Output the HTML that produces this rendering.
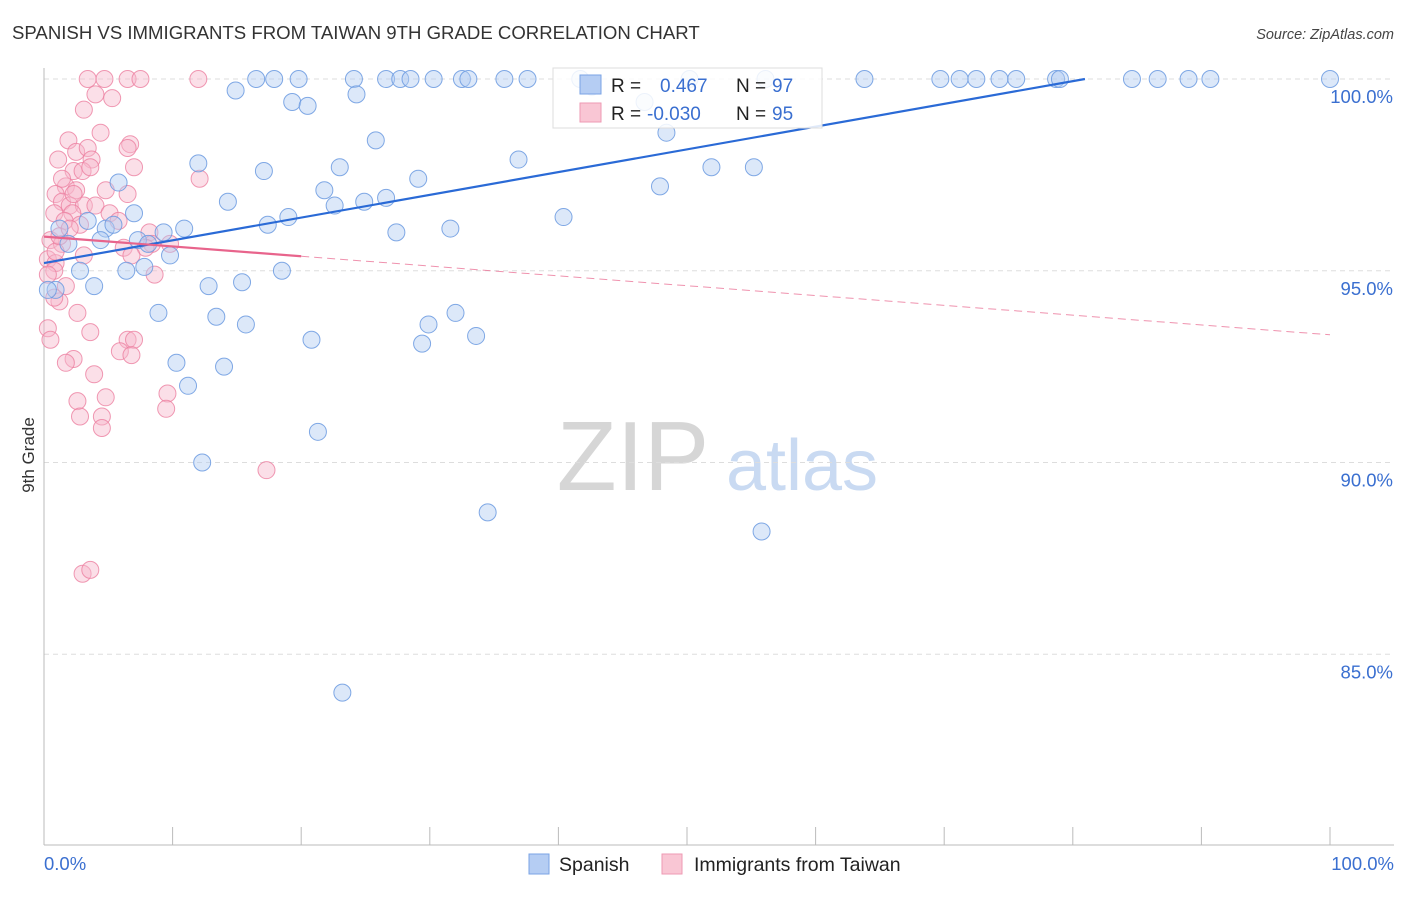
<!DOCTYPE html>
<html><head><meta charset="utf-8"><style>
body{margin:0;background:#fff;font-family:"Liberation Sans",sans-serif;}
svg text{font-family:"Liberation Sans",sans-serif;}
</style></head><body>
<svg id="chart" width="1406" height="892" xmlns="http://www.w3.org/2000/svg">
<text x="12" y="39" font-size="18.6" fill="#333">SPANISH VS IMMIGRANTS FROM TAIWAN 9TH GRADE CORRELATION CHART</text>
<text x="1394" y="39" font-size="14.5" fill="#444" font-style="italic" text-anchor="end">Source: ZipAtlas.com</text>
<g>
<text x="633" y="490" font-size="98" fill="#d6d6d6" font-family="Liberation Serif" text-anchor="middle">ZIP</text>
<text x="802" y="490" font-size="72" fill="#c9daf2" text-anchor="middle">atlas</text>
</g>
<g id="grid"></g>
<g id="axes"></g>
<g id="points"></g>
<g id="trends"></g>
<text transform="translate(34,455) rotate(-90)" font-size="17" fill="#333" text-anchor="middle">9th Grade</text>
<text x="44" y="870" font-size="18.5" fill="#3a6fd0">0.0%</text>
<text x="1394" y="870" font-size="18.5" fill="#3a6fd0" text-anchor="end">100.0%</text>
<g>
<rect x="553" y="68" width="269" height="60" fill="#fff" fill-opacity="0.85" stroke="#ddd"/>
<rect x="580" y="75" width="21" height="19" fill="#b5cdf3" stroke="#7aa3e5"/>
<rect x="580" y="103" width="21" height="19" fill="#f9c6d4" stroke="#ee9ab3"/>
<text x="611" y="92" font-size="19" fill="#222">R =</text>
<text x="660" y="92" font-size="19" fill="#3a6fd0">0.467</text>
<text x="736" y="92" font-size="19" fill="#222">N =</text>
<text x="772" y="92" font-size="19" fill="#3a6fd0">97</text>
<text x="611" y="120" font-size="19" fill="#222">R =</text>
<text x="647" y="120" font-size="19" fill="#3a6fd0">-0.030</text>
<text x="736" y="120" font-size="19" fill="#222">N =</text>
<text x="772" y="120" font-size="19" fill="#3a6fd0">95</text>
</g>
<g>
<rect x="529" y="854" width="20" height="20" fill="#b5cdf3" stroke="#7aa3e5"/>
<text x="559" y="871" font-size="19.5" fill="#222">Spanish</text>
<rect x="662" y="854" width="20" height="20" fill="#f9c6d4" stroke="#ee9ab3"/>
<text x="694" y="871" font-size="19.5" fill="#222">Immigrants from Taiwan</text>
</g>
</svg>
<script>
const yTicks=[100,95,90,85];
const yTickLabels=["100.0%","95.0%","90.0%","85.0%"];
const xTicks=[0,10,20,30,40,50,60,70,80,90,100];
const blueX=[16.5,17.9,19.8,24.1,26.6,27.7,28.5,30.3,32.5,33.0,35.8,37.6,41.7,50.2,56.1,63.8,69.7,71.2,72.5,74.3,75.6,78.7,79.0,84.6,86.6,89.0,90.7,100,42.6,14.9,19.3,20.5,24.3,46.7,25.8,48.4,12.0,17.1,23.0,36.9,55.2,51.9,5.8,47.9,21.8,29.1,26.6,24.9,22.6,14.3,40.4,7.0,19.0,17.4,3.4,1.2,4.8,5.4,10.9,9.3,27.4,31.6,7.3,4.4,1.9,8.1,9.8,2.8,6.4,7.8,18.5,15.4,3.9,12.8,0.9,0.3,8.9,13.4,15.7,32.0,29.9,20.8,29.4,33.6,10.3,14.0,11.2,21.3,12.3,34.5,55.8,23.2];
const blueY=[100,100,100,100,100,100,100,100,100,100,100,100,100,100,100,100,100,100,100,100,100,100,100,100,100,100,100,100,99.8,99.7,99.4,99.3,99.6,99.4,98.4,98.6,97.8,97.6,97.7,97.9,97.7,97.7,97.3,97.2,97.1,97.4,96.9,96.8,96.7,96.8,96.4,96.5,96.4,96.2,96.3,96.1,96.1,96.2,96.1,96.0,96.0,96.1,95.8,95.8,95.7,95.7,95.4,95.0,95.0,95.1,95.0,94.7,94.6,94.6,94.5,94.5,93.9,93.8,93.6,93.9,93.6,93.2,93.1,93.3,92.6,92.5,92.0,90.8,90.0,88.7,88.2,84.0];
const pinkX=[3.4,4.7,6.5,7.5,12.0,3.1,4.0,5.3,4.4,1.9,2.5,3.4,1.1,3.7,6.7,6.5,7.0,2.3,3.0,3.6,1.7,2.5,0.9,6.5,1.4,2.0,3.1,4.0,0.8,5.1,2.2,1.6,2.8,5.8,0.5,1.4,8.2,8.4,7.9,6.2,0.3,0.9,3.1,6.8,9.8,12.1,8.6,0.8,1.2,1.7,0.8,2.6,0.3,3.6,0.5,6.5,7.0,5.9,2.3,1.7,6.8,3.9,9.6,4.8,2.6,9.5,2.8,4.5,4.5,17.3,3.0,3.6,1.4,4.8,0.9,0.3,1.2,2.3,2.0];
const pinkY=[100,100,100,100,100,99.2,99.6,99.5,98.6,98.4,98.1,98.2,97.9,97.9,98.3,98.2,97.7,97.6,97.6,97.7,97.2,97.1,97.0,97.0,96.8,96.7,96.7,96.7,96.5,96.5,96.5,96.3,96.2,96.3,95.8,95.7,96.0,95.7,95.6,95.6,95.3,95.2,95.4,95.4,95.7,97.4,94.9,95.0,94.2,94.6,94.3,93.9,93.5,93.4,93.2,93.2,93.2,92.9,92.7,92.6,92.8,92.3,91.8,91.7,91.6,91.4,91.2,91.2,90.9,89.8,87.1,87.2,97.4,97.1,95.5,94.9,95.9,97.0,96.1];
const blueTrend=[95.2,101.13];
const pinkTrend=[95.89,93.33];
const pinkSolidEnd=20;
const NS="http://www.w3.org/2000/svg";
const X0=44,X1=1330,Y0=79,YPER=38.35;
function xs(v){return X0+(X1-X0)*v/100;}
function ys(v){return Y0+(100-v)*YPER;}
function mk(tag,attrs,parent){const e=document.createElementNS(NS,tag);for(const k in attrs)e.setAttribute(k,attrs[k]);parent.appendChild(e);return e;}
const grid=document.getElementById('grid');
yTicks.forEach((t,i)=>{
 const l=mk('line',{x1:X0,x2:1394,y1:ys(t),y2:ys(t),stroke:'#ddd','stroke-dasharray':'5,4'},grid);
 
 
 const tx=mk('text',{x:1393,y:ys(t)+24,'font-size':18.5,fill:'#3a6fd0','text-anchor':'end'},grid);
 tx.textContent=yTickLabels[i];
 
 
});
const axes=document.getElementById('axes');
const ya=mk('line',{x1:X0,x2:X0,y1:68,y2:845,stroke:'#bbb'},axes);


const xa=mk('line',{x1:X0,x2:1394,y1:845,y2:845,stroke:'#bbb'},axes);


xTicks.forEach(t=>{
 const l=mk('line',{x1:xs(t),x2:xs(t),y1:827,y2:845,stroke:'#bbb'},axes);
 
 
});
const pts=document.getElementById('points');
pinkX.forEach((v,i)=>{
 const c=mk('circle',{cx:xs(v),cy:ys(pinkY[i]),r:8.5,fill:'#f7b8cb','fill-opacity':0.45,stroke:'#ec7fa0','stroke-opacity':0.8,'stroke-width':1},pts);
 
 
});
blueX.forEach((v,i)=>{
 const c=mk('circle',{cx:xs(v),cy:ys(blueY[i]),r:8.5,fill:'#b2cbf2','fill-opacity':0.45,stroke:'#6b9ae0','stroke-opacity':0.85,'stroke-width':1},pts);
 
 
});
const tr=document.getElementById('trends');
const slope=(blueTrend[1]-blueTrend[0])/100;
const bx1=Math.min(100,(100-blueTrend[0])/slope);
const bl=mk('line',{x1:xs(0),y1:ys(blueTrend[0]),x2:xs(bx1),y2:ys(blueTrend[0]+slope*bx1),stroke:'#2a6ad6','stroke-width':2.2},tr);


const py=x=>pinkTrend[0]+(pinkTrend[1]-pinkTrend[0])*x/100;
const ps=mk('line',{x1:xs(0),y1:ys(py(0)),x2:xs(pinkSolidEnd),y2:ys(py(pinkSolidEnd)),stroke:'#e8648c','stroke-width':2.2},tr);


const pd=mk('line',{x1:xs(pinkSolidEnd),y1:ys(py(pinkSolidEnd)),x2:xs(100),y2:ys(py(100)),stroke:'#e8648c','stroke-width':1,'stroke-dasharray':'8,5','stroke-opacity':0.7},tr);


</script>
</body></html>
